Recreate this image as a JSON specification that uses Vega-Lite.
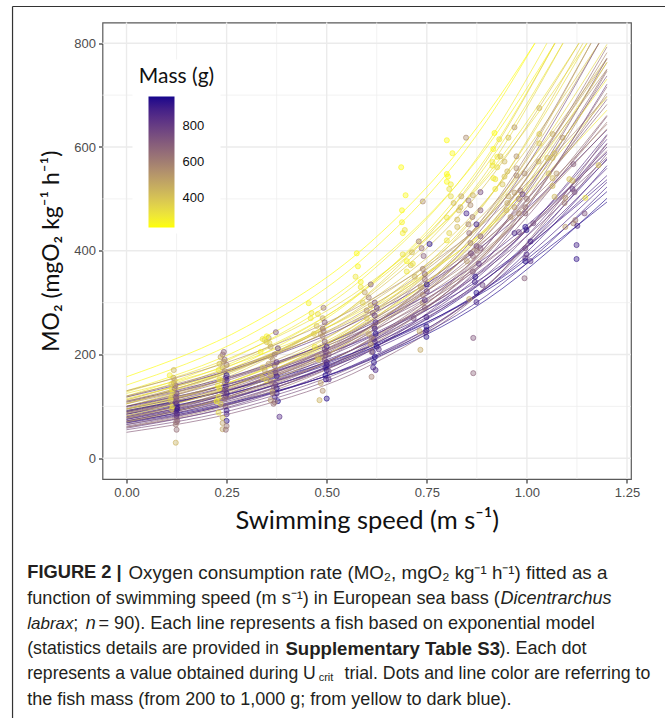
{"$schema":"https://vega.github.io/schema/vega-lite/v6.json","width":528.5,"height":456.5,"autosize":"none","padding":{"left":102.5,"top":22.5,"right":34,"bottom":239},"background":"white",
"config":{"view":{"stroke":"#5a5a5a","strokeWidth":1.2},"font":"Liberation Sans"},
"datasets":{"fish":[
{"f":1,"m":235,"s":0,"o":157},{"f":1,"m":235,"s":0.3,"o":254},{"f":1,"m":235,"s":0.6,"o":410},{"f":1,"m":235,"s":0.9,"o":663},{"f":1,"m":235,"s":1.02,"o":800},
{"f":2,"m":250,"s":0,"o":141},{"f":2,"m":250,"s":0.3,"o":235},{"f":2,"m":250,"s":0.6,"o":391},{"f":2,"m":250,"s":0.9,"o":651},{"f":2,"m":250,"s":1.02,"o":800},
{"f":3,"m":260,"s":0,"o":130},{"f":3,"m":260,"s":0.3,"o":216},{"f":3,"m":260,"s":0.6,"o":360},{"f":3,"m":260,"s":0.9,"o":600},{"f":3,"m":260,"s":1.07,"o":800},
{"f":4,"m":280,"s":0,"o":120},{"f":4,"m":280,"s":0.3,"o":206},{"f":4,"m":280,"s":0.6,"o":353},{"f":4,"m":280,"s":0.9,"o":606},{"f":4,"m":280,"s":1.05,"o":800},
{"f":5,"m":300,"s":0,"o":112},{"f":5,"m":300,"s":0.3,"o":192},{"f":5,"m":300,"s":0.6,"o":330},{"f":5,"m":300,"s":0.9,"o":566},{"f":5,"m":300,"s":1.09,"o":800},
{"f":6,"m":320,"s":0,"o":128},{"f":6,"m":320,"s":0.3,"o":207},{"f":6,"m":320,"s":0.6,"o":334},{"f":6,"m":320,"s":0.9,"o":540},{"f":6,"m":320,"s":1.15,"o":800},
{"f":7,"m":270,"s":0,"o":105},{"f":7,"m":270,"s":0.3,"o":186},{"f":7,"m":270,"s":0.6,"o":328},{"f":7,"m":270,"s":0.9,"o":581},{"f":7,"m":270,"s":1.07,"o":800},
{"f":8,"m":340,"s":0,"o":100},{"f":8,"m":340,"s":0.3,"o":177},{"f":8,"m":340,"s":0.6,"o":313},{"f":8,"m":340,"s":0.9,"o":553},{"f":8,"m":340,"s":1.09,"o":800},
{"f":9,"m":300,"s":0,"o":118},{"f":9,"m":300,"s":0.3,"o":196},{"f":9,"m":300,"s":0.6,"o":327},{"f":9,"m":300,"s":0.9,"o":545},{"f":9,"m":300,"s":1.13,"o":800},
{"f":10,"m":360,"s":0,"o":95},{"f":10,"m":360,"s":0.3,"o":173},{"f":10,"m":360,"s":0.6,"o":315},{"f":10,"m":360,"s":0.9,"o":575},{"f":10,"m":360,"s":1.07,"o":800},
{"f":11,"m":380,"s":0,"o":108},{"f":11,"m":380,"s":0.3,"o":180},{"f":11,"m":380,"s":0.6,"o":299},{"f":11,"m":380,"s":0.9,"o":499},{"f":11,"m":380,"s":1.18,"o":800},
{"f":12,"m":330,"s":0,"o":90},{"f":12,"m":330,"s":0.3,"o":159},{"f":12,"m":330,"s":0.6,"o":281},{"f":12,"m":330,"s":0.9,"o":498},{"f":12,"m":330,"s":1.15,"o":800},
{"f":13,"m":420,"s":0,"o":113},{"f":13,"m":420,"s":0.3,"o":183},{"f":13,"m":420,"s":0.6,"o":295},{"f":13,"m":420,"s":0.9,"o":477},{"f":13,"m":420,"s":1.2,"o":771},
{"f":14,"m":450,"s":0,"o":85},{"f":14,"m":450,"s":0.3,"o":150},{"f":14,"m":450,"s":0.6,"o":266},{"f":14,"m":450,"s":0.9,"o":470},{"f":14,"m":450,"s":1.18,"o":800},
{"f":15,"m":480,"s":0,"o":100},{"f":15,"m":480,"s":0.3,"o":167},{"f":15,"m":480,"s":0.6,"o":277},{"f":15,"m":480,"s":0.9,"o":462},{"f":15,"m":480,"s":1.2,"o":769},
{"f":16,"m":340,"s":0,"o":92},{"f":16,"m":340,"s":0.3,"o":158},{"f":16,"m":340,"s":0.6,"o":271},{"f":16,"m":340,"s":0.9,"o":465},{"f":16,"m":340,"s":1.2,"o":798},
{"f":17,"m":300,"s":0,"o":88},{"f":17,"m":300,"s":0.3,"o":151},{"f":17,"m":300,"s":0.6,"o":259},{"f":17,"m":300,"s":0.9,"o":445},{"f":17,"m":300,"s":1.2,"o":763},
{"f":18,"m":560,"s":0,"o":80},{"f":18,"m":560,"s":0.3,"o":141},{"f":18,"m":560,"s":0.6,"o":250},{"f":18,"m":560,"s":0.9,"o":442},{"f":18,"m":560,"s":1.2,"o":782},
{"f":19,"m":600,"s":0,"o":78},{"f":19,"m":600,"s":0.3,"o":142},{"f":19,"m":600,"s":0.6,"o":259},{"f":19,"m":600,"s":0.9,"o":472},{"f":19,"m":600,"s":1.16,"o":800},
{"f":20,"m":640,"s":0,"o":72},{"f":20,"m":640,"s":0.3,"o":131},{"f":20,"m":640,"s":0.6,"o":239},{"f":20,"m":640,"s":0.9,"o":436},{"f":20,"m":640,"s":1.2,"o":793},
{"f":21,"m":700,"s":0,"o":85},{"f":21,"m":700,"s":0.3,"o":146},{"f":21,"m":700,"s":0.6,"o":250},{"f":21,"m":700,"s":0.9,"o":430},{"f":21,"m":700,"s":1.2,"o":737},
{"f":22,"m":750,"s":0,"o":75},{"f":22,"m":750,"s":0.3,"o":137},{"f":22,"m":750,"s":0.6,"o":249},{"f":22,"m":750,"s":0.9,"o":454},{"f":22,"m":750,"s":1.18,"o":800},
{"f":23,"m":680,"s":0,"o":68},{"f":23,"m":680,"s":0.3,"o":124},{"f":23,"m":680,"s":0.6,"o":226},{"f":23,"m":680,"s":0.9,"o":411},{"f":23,"m":680,"s":1.2,"o":749},
{"f":24,"m":620,"s":0,"o":95},{"f":24,"m":620,"s":0.3,"o":154},{"f":24,"m":620,"s":0.6,"o":248},{"f":24,"m":620,"s":0.9,"o":401},{"f":24,"m":620,"s":1.2,"o":648},
{"f":25,"m":580,"s":0,"o":105},{"f":25,"m":580,"s":0.3,"o":165},{"f":25,"m":580,"s":0.6,"o":258},{"f":25,"m":580,"s":0.9,"o":405},{"f":25,"m":580,"s":1.2,"o":635},
{"f":26,"m":320,"s":0,"o":115},{"f":26,"m":320,"s":0.3,"o":180},{"f":26,"m":320,"s":0.6,"o":283},{"f":26,"m":320,"s":0.9,"o":444},{"f":26,"m":320,"s":1.2,"o":696},
{"f":27,"m":290,"s":0,"o":125},{"f":27,"m":290,"s":0.3,"o":190},{"f":27,"m":290,"s":0.6,"o":290},{"f":27,"m":290,"s":0.9,"o":441},{"f":27,"m":290,"s":1.2,"o":671},
{"f":28,"m":540,"s":0,"o":130},{"f":28,"m":540,"s":0.3,"o":198},{"f":28,"m":540,"s":0.6,"o":301},{"f":28,"m":540,"s":0.9,"o":458},{"f":28,"m":540,"s":1.2,"o":698},
{"f":29,"m":660,"s":0,"o":100},{"f":29,"m":660,"s":0.3,"o":162},{"f":29,"m":660,"s":0.6,"o":261},{"f":29,"m":660,"s":0.9,"o":422},{"f":29,"m":660,"s":1.2,"o":682},
{"f":30,"m":720,"s":0,"o":62},{"f":30,"m":720,"s":0.3,"o":116},{"f":30,"m":720,"s":0.6,"o":219},{"f":30,"m":720,"s":0.9,"o":410},{"f":30,"m":720,"s":1.2,"o":771},
{"f":31,"m":780,"s":0,"o":58},{"f":31,"m":780,"s":0.3,"o":109},{"f":31,"m":780,"s":0.6,"o":204},{"f":31,"m":780,"s":0.9,"o":384},{"f":31,"m":780,"s":1.2,"o":721},
{"f":32,"m":700,"s":0,"o":90},{"f":32,"m":700,"s":0.3,"o":150},{"f":32,"m":700,"s":0.6,"o":250},{"f":32,"m":700,"s":0.9,"o":416},{"f":32,"m":700,"s":1.2,"o":692},
{"f":33,"m":820,"s":0,"o":118},{"f":33,"m":820,"s":0.3,"o":180},{"f":33,"m":820,"s":0.6,"o":273},{"f":33,"m":820,"s":0.9,"o":416},{"f":33,"m":820,"s":1.2,"o":633},
{"f":34,"m":860,"s":0,"o":110},{"f":34,"m":860,"s":0.3,"o":167},{"f":34,"m":860,"s":0.6,"o":255},{"f":34,"m":860,"s":0.9,"o":388},{"f":34,"m":860,"s":1.2,"o":590},
{"f":35,"m":900,"s":0,"o":100},{"f":35,"m":900,"s":0.3,"o":152},{"f":35,"m":900,"s":0.6,"o":232},{"f":35,"m":900,"s":0.9,"o":353},{"f":35,"m":900,"s":1.2,"o":537},
{"f":36,"m":880,"s":0,"o":90},{"f":36,"m":880,"s":0.3,"o":141},{"f":36,"m":880,"s":0.6,"o":221},{"f":36,"m":880,"s":0.9,"o":347},{"f":36,"m":880,"s":1.2,"o":545},
{"f":37,"m":940,"s":0,"o":85},{"f":37,"m":940,"s":0.3,"o":133},{"f":37,"m":940,"s":0.6,"o":209},{"f":37,"m":940,"s":0.9,"o":328},{"f":37,"m":940,"s":1.2,"o":514},
{"f":38,"m":960,"s":0,"o":70},{"f":38,"m":960,"s":0.3,"o":115},{"f":38,"m":960,"s":0.6,"o":187},{"f":38,"m":960,"s":0.9,"o":306},{"f":38,"m":960,"s":1.2,"o":501},
{"f":39,"m":920,"s":0,"o":75},{"f":39,"m":920,"s":0.3,"o":125},{"f":39,"m":920,"s":0.6,"o":208},{"f":39,"m":920,"s":0.9,"o":346},{"f":39,"m":920,"s":1.2,"o":577},
{"f":40,"m":840,"s":0,"o":80},{"f":40,"m":840,"s":0.3,"o":133},{"f":40,"m":840,"s":0.6,"o":222},{"f":40,"m":840,"s":0.9,"o":369},{"f":40,"m":840,"s":1.2,"o":615},
{"f":41,"m":800,"s":0,"o":70},{"f":41,"m":800,"s":0.3,"o":120},{"f":41,"m":800,"s":0.6,"o":206},{"f":41,"m":800,"s":0.9,"o":354},{"f":41,"m":800,"s":1.2,"o":607},
{"f":42,"m":900,"s":0,"o":65},{"f":42,"m":900,"s":0.3,"o":112},{"f":42,"m":900,"s":0.6,"o":191},{"f":42,"m":900,"s":0.9,"o":328},{"f":42,"m":900,"s":1.2,"o":564},
{"f":43,"m":760,"s":0,"o":60},{"f":43,"m":760,"s":0.3,"o":106},{"f":43,"m":760,"s":0.6,"o":188},{"f":43,"m":760,"s":0.9,"o":332},{"f":43,"m":760,"s":1.2,"o":587},
{"f":44,"m":860,"s":0,"o":82},{"f":44,"m":860,"s":0.3,"o":133},{"f":44,"m":860,"s":0.6,"o":214},{"f":44,"m":860,"s":0.9,"o":346},{"f":44,"m":860,"s":1.2,"o":559},
{"f":45,"m":800,"s":0,"o":88},{"f":45,"m":800,"s":0.3,"o":142},{"f":45,"m":800,"s":0.6,"o":230},{"f":45,"m":800,"s":0.9,"o":371},{"f":45,"m":800,"s":1.2,"o":600},
{"f":46,"m":740,"s":0,"o":55},{"f":46,"m":740,"s":0.3,"o":100},{"f":46,"m":740,"s":0.6,"o":183},{"f":46,"m":740,"s":0.9,"o":333},{"f":46,"m":740,"s":1.2,"o":606},
{"f":47,"m":700,"s":0,"o":50},{"f":47,"m":700,"s":0.3,"o":94},{"f":47,"m":700,"s":0.6,"o":176},{"f":47,"m":700,"s":0.9,"o":331},{"f":47,"m":700,"s":1.2,"o":622},
{"f":48,"m":660,"s":0,"o":65},{"f":48,"m":660,"s":0.3,"o":118},{"f":48,"m":660,"s":0.6,"o":216},{"f":48,"m":660,"s":0.9,"o":393},{"f":48,"m":660,"s":1.2,"o":716},
{"f":49,"m":600,"s":0,"o":60},{"f":49,"m":600,"s":0.3,"o":113},{"f":49,"m":600,"s":0.6,"o":212},{"f":49,"m":600,"s":0.9,"o":397},{"f":49,"m":600,"s":1.2,"o":746},
{"f":50,"m":880,"s":0,"o":78},{"f":50,"m":880,"s":0.3,"o":126},{"f":50,"m":880,"s":0.6,"o":204},{"f":50,"m":880,"s":0.9,"o":329},{"f":50,"m":880,"s":1.2,"o":532},
{"f":51,"m":950,"s":0,"o":92},{"f":51,"m":950,"s":0.3,"o":140},{"f":51,"m":950,"s":0.6,"o":213},{"f":51,"m":950,"s":0.9,"o":324},{"f":51,"m":950,"s":1.2,"o":494},
{"f":52,"m":780,"s":0,"o":95},{"f":52,"m":780,"s":0.3,"o":149},{"f":52,"m":780,"s":0.6,"o":234},{"f":52,"m":780,"s":0.9,"o":366},{"f":52,"m":780,"s":1.2,"o":575},
{"f":53,"m":720,"s":0,"o":108},{"f":53,"m":720,"s":0.3,"o":164},{"f":53,"m":720,"s":0.6,"o":250},{"f":53,"m":720,"s":0.9,"o":381},{"f":53,"m":720,"s":1.2,"o":580},
{"f":54,"m":640,"s":0,"o":86},{"f":54,"m":640,"s":0.3,"o":143},{"f":54,"m":640,"s":0.6,"o":238},{"f":54,"m":640,"s":0.9,"o":397},{"f":54,"m":640,"s":1.2,"o":661},
{"f":55,"m":560,"s":0,"o":72},{"f":55,"m":560,"s":0.3,"o":127},{"f":55,"m":560,"s":0.6,"o":225},{"f":55,"m":560,"s":0.9,"o":398},{"f":55,"m":560,"s":1.2,"o":704},
{"f":56,"m":480,"s":0,"o":78},{"f":56,"m":480,"s":0.3,"o":138},{"f":56,"m":480,"s":0.6,"o":244},{"f":56,"m":480,"s":0.9,"o":431},{"f":56,"m":480,"s":1.2,"o":763},
{"f":57,"m":300,"s":0,"o":95},{"f":57,"m":300,"s":0.3,"o":158},{"f":57,"m":300,"s":0.6,"o":263},{"f":57,"m":300,"s":0.9,"o":439},{"f":57,"m":300,"s":1.2,"o":731},
{"f":58,"m":520,"s":0,"o":110},{"f":58,"m":520,"s":0.3,"o":178},{"f":58,"m":520,"s":0.6,"o":287},{"f":58,"m":520,"s":0.9,"o":464},{"f":58,"m":520,"s":1.2,"o":750},
{"f":59,"m":610,"s":0,"o":120},{"f":59,"m":610,"s":0.3,"o":183},{"f":59,"m":610,"s":0.6,"o":278},{"f":59,"m":610,"s":0.9,"o":423},{"f":59,"m":610,"s":1.2,"o":644},
{"f":60,"m":400,"s":0,"o":105},{"f":60,"m":400,"s":0.3,"o":180},{"f":60,"m":400,"s":0.6,"o":309},{"f":60,"m":400,"s":0.9,"o":531},{"f":60,"m":400,"s":1.13,"o":800},
{"f":61,"m":360,"s":0,"o":82},{"f":61,"m":360,"s":0.3,"o":149},{"f":61,"m":360,"s":0.6,"o":272},{"f":61,"m":360,"s":0.9,"o":496},{"f":61,"m":360,"s":1.14,"o":800},
{"f":62,"m":450,"s":0,"o":70},{"f":62,"m":450,"s":0.3,"o":131},{"f":62,"m":450,"s":0.6,"o":247},{"f":62,"m":450,"s":0.9,"o":463},{"f":62,"m":450,"s":1.16,"o":800},
{"f":63,"m":830,"s":0,"o":72},{"f":63,"m":830,"s":0.3,"o":124},{"f":63,"m":830,"s":0.6,"o":212},{"f":63,"m":830,"s":0.9,"o":364},{"f":63,"m":830,"s":1.2,"o":624},
{"f":64,"m":900,"s":0,"o":68},{"f":64,"m":900,"s":0.3,"o":113},{"f":64,"m":900,"s":0.6,"o":189},{"f":64,"m":900,"s":0.9,"o":314},{"f":64,"m":900,"s":1.2,"o":523},
{"f":65,"m":700,"s":0,"o":76},{"f":65,"m":700,"s":0.3,"o":130},{"f":65,"m":700,"s":0.6,"o":224},{"f":65,"m":700,"s":0.9,"o":384},{"f":65,"m":700,"s":1.2,"o":659},
{"f":66,"m":680,"s":0,"o":98},{"f":66,"m":680,"s":0.3,"o":154},{"f":66,"m":680,"s":0.6,"o":241},{"f":66,"m":680,"s":0.9,"o":378},{"f":66,"m":680,"s":1.2,"o":593}
],
"dots":[
{"m":450,"s":0.123,"o":30},{"m":650,"s":0.125,"o":55},{"m":620,"s":0.123,"o":65},{"m":700,"s":0.127,"o":72},{"m":680,"s":0.125,"o":78},{"m":800,"s":0.125,"o":82},{"m":750,"s":0.123,"o":88},{"m":900,"s":0.125,"o":92},{"m":950,"s":0.125,"o":97},{"m":850,"s":0.127,"o":100},{"m":400,"s":0.113,"o":95},{"m":300,"s":0.115,"o":100},{"m":920,"s":0.125,"o":105},{"m":800,"s":0.122,"o":108},{"m":700,"s":0.125,"o":112},{"m":320,"s":0.112,"o":118},{"m":600,"s":0.122,"o":120},{"m":780,"s":0.125,"o":125},{"m":350,"s":0.115,"o":128},{"m":300,"s":0.113,"o":133},{"m":600,"s":0.12,"o":135},{"m":650,"s":0.122,"o":140},{"m":500,"s":0.118,"o":145},{"m":450,"s":0.12,"o":150},{"m":500,"s":0.117,"o":155},{"m":280,"s":0.108,"o":160},{"m":450,"s":0.118,"o":170},{"m":350,"s":0.112,"o":143},{"m":720,"s":0.124,"o":117},{"m":860,"s":0.126,"o":86},{"m":640,"s":0.124,"o":70},{"m":900,"s":0.127,"o":95},{"m":380,"s":0.11,"o":112},
{"m":680,"s":0.243,"o":205},{"m":640,"s":0.24,"o":200},{"m":500,"s":0.235,"o":195},{"m":660,"s":0.245,"o":190},{"m":400,"s":0.232,"o":182},{"m":620,"s":0.25,"o":180},{"m":480,"s":0.24,"o":175},{"m":300,"s":0.23,"o":170},{"m":560,"s":0.245,"o":168},{"m":950,"s":0.25,"o":160},{"m":850,"s":0.248,"o":155},{"m":900,"s":0.25,"o":150},{"m":750,"s":0.246,"o":145},{"m":300,"s":0.228,"o":140},{"m":280,"s":0.232,"o":135},{"m":700,"s":0.245,"o":132},{"m":920,"s":0.25,"o":125},{"m":800,"s":0.248,"o":120},{"m":300,"s":0.23,"o":118},{"m":650,"s":0.245,"o":115},{"m":250,"s":0.225,"o":110},{"m":350,"s":0.235,"o":105},{"m":700,"s":0.247,"o":100},{"m":920,"s":0.25,"o":92},{"m":330,"s":0.23,"o":88},{"m":850,"s":0.25,"o":85},{"m":400,"s":0.24,"o":78},{"m":950,"s":0.25,"o":72},{"m":500,"s":0.24,"o":68},{"m":480,"s":0.24,"o":56},{"m":650,"s":0.248,"o":55},{"m":620,"s":0.25,"o":62},{"m":760,"s":0.244,"o":128},{"m":880,"s":0.248,"o":138},{"m":420,"s":0.238,"o":150},{"m":540,"s":0.242,"o":186},{"m":300,"s":0.232,"o":152},
{"m":720,"s":0.373,"o":243},{"m":500,"s":0.355,"o":232},{"m":300,"s":0.34,"o":230},{"m":330,"s":0.345,"o":228},{"m":400,"s":0.35,"o":224},{"m":260,"s":0.35,"o":235},{"m":350,"s":0.357,"o":222},{"m":800,"s":0.378,"o":212},{"m":480,"s":0.36,"o":215},{"m":260,"s":0.335,"o":205},{"m":450,"s":0.36,"o":195},{"m":560,"s":0.365,"o":190},{"m":600,"s":0.37,"o":200},{"m":820,"s":0.375,"o":185},{"m":380,"s":0.34,"o":175},{"m":500,"s":0.345,"o":170},{"m":700,"s":0.37,"o":178},{"m":850,"s":0.372,"o":165},{"m":450,"s":0.36,"o":162},{"m":900,"s":0.375,"o":158},{"m":350,"s":0.35,"o":150},{"m":600,"s":0.36,"o":148},{"m":800,"s":0.372,"o":142},{"m":950,"s":0.375,"o":135},{"m":450,"s":0.365,"o":128},{"m":900,"s":0.375,"o":125},{"m":960,"s":0.378,"o":110},{"m":900,"s":0.37,"o":118},{"m":520,"s":0.36,"o":112},{"m":600,"s":0.37,"o":108},{"m":650,"s":0.367,"o":105},{"m":850,"s":0.382,"o":80},{"m":400,"s":0.34,"o":155},{"m":650,"s":0.365,"o":125},{"m":700,"s":0.368,"o":138},{"m":500,"s":0.355,"o":182},{"m":620,"s":0.372,"o":168},
{"m":260,"s":0.455,"o":299},{"m":300,"s":0.462,"o":280},{"m":280,"s":0.46,"o":270},{"m":320,"s":0.478,"o":278},{"m":620,"s":0.492,"o":290},{"m":480,"s":0.49,"o":270},{"m":700,"s":0.495,"o":262},{"m":400,"s":0.475,"o":255},{"m":650,"s":0.49,"o":250},{"m":500,"s":0.485,"o":240},{"m":550,"s":0.49,"o":235},{"m":700,"s":0.495,"o":225},{"m":900,"s":0.5,"o":215},{"m":800,"s":0.495,"o":210},{"m":850,"s":0.497,"o":198},{"m":600,"s":0.49,"o":195},{"m":720,"s":0.495,"o":190},{"m":930,"s":0.5,"o":180},{"m":900,"s":0.497,"o":175},{"m":960,"s":0.5,"o":170},{"m":800,"s":0.505,"o":168},{"m":960,"s":0.497,"o":160},{"m":920,"s":0.498,"o":152},{"m":850,"s":0.505,"o":152},{"m":500,"s":0.485,"o":145},{"m":550,"s":0.49,"o":130},{"m":450,"s":0.482,"o":112},{"m":950,"s":0.5,"o":115},{"m":600,"s":0.492,"o":245},{"m":380,"s":0.468,"o":240},{"m":750,"s":0.498,"o":205},{"m":480,"s":0.477,"o":195},{"m":300,"s":0.47,"o":215},{"m":350,"s":0.48,"o":190},{"m":880,"s":0.5,"o":185},{"m":700,"s":0.505,"o":200},
{"m":240,"s":0.575,"o":395},{"m":250,"s":0.578,"o":370},{"m":300,"s":0.572,"o":350},{"m":260,"s":0.585,"o":340},{"m":300,"s":0.585,"o":330},{"m":500,"s":0.595,"o":320},{"m":600,"s":0.605,"o":310},{"m":700,"s":0.61,"o":335},{"m":480,"s":0.61,"o":295},{"m":550,"s":0.6,"o":285},{"m":650,"s":0.615,"o":280},{"m":800,"s":0.62,"o":275},{"m":850,"s":0.622,"o":262},{"m":700,"s":0.618,"o":255},{"m":900,"s":0.62,"o":250},{"m":950,"s":0.622,"o":240},{"m":750,"s":0.618,"o":230},{"m":900,"s":0.62,"o":225},{"m":960,"s":0.625,"o":215},{"m":850,"s":0.63,"o":210},{"m":930,"s":0.615,"o":205},{"m":960,"s":0.62,"o":195},{"m":950,"s":0.618,"o":185},{"m":900,"s":0.616,"o":175},{"m":880,"s":0.622,"o":170},{"m":600,"s":0.612,"o":157},{"m":650,"s":0.612,"o":205},{"m":400,"s":0.6,"o":270},{"m":450,"s":0.605,"o":240},{"m":350,"s":0.59,"o":300},{"m":500,"s":0.61,"o":220},{"m":600,"s":0.612,"o":232},{"m":720,"s":0.62,"o":300},{"m":820,"s":0.625,"o":290},
{"m":240,"s":0.686,"o":561},{"m":250,"s":0.697,"o":507},{"m":560,"s":0.74,"o":495},{"m":250,"s":0.688,"o":478},{"m":260,"s":0.688,"o":455},{"m":270,"s":0.69,"o":434},{"m":320,"s":0.695,"o":440},{"m":620,"s":0.73,"o":418},{"m":950,"s":0.757,"o":413},{"m":650,"s":0.737,"o":405},{"m":320,"s":0.69,"o":393},{"m":420,"s":0.713,"o":397},{"m":700,"s":0.742,"o":390},{"m":700,"s":0.745,"o":290},{"m":560,"s":0.74,"o":300},{"m":850,"s":0.745,"o":305},{"m":600,"s":0.74,"o":315},{"m":800,"s":0.75,"o":322},{"m":500,"s":0.735,"o":330},{"m":950,"s":0.75,"o":335},{"m":650,"s":0.745,"o":345},{"m":450,"s":0.72,"o":350},{"m":700,"s":0.745,"o":355},{"m":300,"s":0.7,"o":360},{"m":600,"s":0.74,"o":365},{"m":400,"s":0.71,"o":372},{"m":250,"s":0.7,"o":380},{"m":300,"s":0.715,"o":375},{"m":480,"s":0.734,"o":209},{"m":470,"s":0.732,"o":245},{"m":950,"s":0.749,"o":234},{"m":950,"s":0.749,"o":247},{"m":950,"s":0.749,"o":254},{"m":850,"s":0.747,"o":243},{"m":900,"s":0.749,"o":272},{"m":750,"s":0.717,"o":270},
{"m":240,"s":0.8,"o":613},{"m":560,"s":0.848,"o":618},{"m":250,"s":0.814,"o":588},{"m":240,"s":0.8,"o":548},{"m":240,"s":0.803,"o":543},{"m":240,"s":0.8,"o":533},{"m":280,"s":0.81,"o":528},{"m":320,"s":0.806,"o":519},{"m":340,"s":0.81,"o":505},{"m":420,"s":0.817,"o":492},{"m":480,"s":0.836,"o":505},{"m":620,"s":0.854,"o":497},{"m":460,"s":0.865,"o":507},{"m":560,"s":0.859,"o":488},{"m":760,"s":0.884,"o":513},{"m":720,"s":0.884,"o":478},{"m":900,"s":0.849,"o":472},{"m":450,"s":0.834,"o":484},{"m":420,"s":0.83,"o":478},{"m":620,"s":0.864,"o":465},{"m":420,"s":0.826,"o":460},{"m":920,"s":0.874,"o":451},{"m":300,"s":0.8,"o":464},{"m":420,"s":0.826,"o":446},{"m":600,"s":0.854,"o":451},{"m":650,"s":0.856,"o":434},{"m":350,"s":0.806,"o":434},{"m":300,"s":0.8,"o":420},{"m":700,"s":0.884,"o":428},{"m":750,"s":0.874,"o":409},{"m":700,"s":0.884,"o":405},{"m":620,"s":0.859,"o":415},{"m":900,"s":0.87,"o":340},{"m":700,"s":0.865,"o":360},{"m":800,"s":0.88,"o":375},{"m":520,"s":0.85,"o":380},{"m":650,"s":0.865,"o":390},{"m":600,"s":0.875,"o":400},{"m":750,"s":0.86,"o":395},{"m":950,"s":0.871,"o":350},{"m":950,"s":0.874,"o":319},{"m":900,"s":0.874,"o":301},{"m":480,"s":0.856,"o":307},{"m":780,"s":0.889,"o":334},{"m":720,"s":0.866,"o":232},{"m":680,"s":0.866,"o":164},
{"m":240,"s":0.919,"o":627},{"m":300,"s":0.931,"o":615},{"m":400,"s":0.954,"o":618},{"m":520,"s":0.969,"o":638},{"m":240,"s":0.916,"o":596},{"m":280,"s":0.926,"o":581},{"m":430,"s":0.934,"o":582},{"m":280,"s":0.914,"o":571},{"m":300,"s":0.914,"o":564},{"m":320,"s":0.926,"o":561},{"m":430,"s":0.944,"o":572},{"m":540,"s":0.974,"o":582},{"m":540,"s":0.974,"o":559},{"m":580,"s":0.974,"o":545},{"m":280,"s":0.916,"o":540},{"m":300,"s":0.921,"o":538},{"m":400,"s":0.944,"o":543},{"m":430,"s":0.951,"o":553},{"m":560,"s":0.994,"o":549},{"m":400,"s":0.939,"o":528},{"m":300,"s":0.921,"o":519},{"m":620,"s":0.984,"o":516},{"m":520,"s":0.969,"o":512},{"m":800,"s":0.989,"o":509},{"m":620,"s":1.0,"o":500},{"m":480,"s":0.954,"o":505},{"m":470,"s":0.951,"o":492},{"m":600,"s":0.98,"o":500},{"m":650,"s":0.996,"o":484},{"m":520,"s":0.969,"o":484},{"m":430,"s":0.949,"o":478},{"m":680,"s":0.996,"o":472},{"m":580,"s":0.98,"o":472},{"m":520,"s":0.959,"o":465},{"m":760,"s":1.016,"o":453},{"m":900,"s":0.969,"o":434},{"m":800,"s":0.98,"o":436},{"m":950,"s":0.996,"o":446},{"m":950,"s":0.999,"o":440},{"m":900,"s":1.009,"o":418},{"m":780,"s":0.996,"o":405},{"m":850,"s":0.999,"o":393},{"m":800,"s":0.996,"o":386},{"m":950,"s":0.996,"o":380},{"m":850,"s":1.009,"o":380},{"m":700,"s":0.994,"o":347},
{"m":430,"s":1.031,"o":675},{"m":380,"s":1.031,"o":625},{"m":470,"s":1.064,"o":625},{"m":520,"s":1.089,"o":618},{"m":380,"s":1.031,"o":607},{"m":450,"s":1.029,"o":572},{"m":400,"s":1.051,"o":579},{"m":430,"s":1.064,"o":579},{"m":420,"s":1.069,"o":588},{"m":700,"s":1.116,"o":567},{"m":400,"s":1.179,"o":565},{"m":430,"s":1.054,"o":549},{"m":420,"s":1.064,"o":540},{"m":420,"s":1.064,"o":525},{"m":520,"s":1.074,"o":549},{"m":400,"s":1.106,"o":538},{"m":430,"s":1.114,"o":535},{"m":430,"s":1.069,"o":504},{"m":300,"s":1.146,"o":502},{"m":520,"s":1.096,"o":502},{"m":600,"s":1.094,"o":492},{"m":820,"s":1.114,"o":519},{"m":720,"s":1.119,"o":513},{"m":720,"s":1.144,"o":472},{"m":620,"s":1.121,"o":459},{"m":580,"s":1.116,"o":453},{"m":520,"s":1.096,"o":446},{"m":880,"s":1.126,"o":448},{"m":900,"s":1.124,"o":411},{"m":930,"s":1.124,"o":384}
]},
"layer":[
{"data":{"values":[{"v":0.125},{"v":0.375},{"v":0.625},{"v":0.875},{"v":1.125}]},"mark":{"type":"rule","color":"#efefef","strokeWidth":0.8},"encoding":{"x":{"field":"v","type":"quantitative"}}},
{"data":{"values":[{"v":100},{"v":300},{"v":500},{"v":700}]},"mark":{"type":"rule","color":"#efefef","strokeWidth":0.8},"encoding":{"y":{"field":"v","type":"quantitative"}}},
{"data":{"values":[{"v":0},{"v":0.25},{"v":0.5},{"v":0.75},{"v":1.0},{"v":1.25}]},"mark":{"type":"rule","color":"#ebebeb","strokeWidth":1.4},"encoding":{"x":{"field":"v","type":"quantitative"}}},
{"data":{"values":[{"v":0},{"v":200},{"v":400},{"v":600},{"v":800}]},"mark":{"type":"rule","color":"#ebebeb","strokeWidth":1.4},"encoding":{"y":{"field":"v","type":"quantitative"}}},
{"data":{"name":"fish"},"mark":{"type":"line","interpolate":"monotone","strokeWidth":1,"opacity":0.65},"encoding":{
"x":{"field":"s","type":"quantitative","scale":{"domain":[-0.06,1.26],"nice":false,"zero":false},"axis":{"title":"Swimming speed (m s⁻¹)","titleFont":"Lato","titleFontSize":25.5,"titleFontWeight":"normal","titleColor":"#111111","titlePadding":9,"values":[0,0.25,0.5,0.75,1,1.25],"format":".2f","grid":false,"domain":false,"tickColor":"#333333","tickSize":4,"tickWidth":1.2,"labelFont":"Liberation Sans","labelFontSize":13,"labelColor":"#4d4d4d","labelPadding":3}},
"y":{"field":"o","type":"quantitative","scale":{"domain":[-40,840],"nice":false,"zero":false},"axis":{"title":"MO₂ (mgO₂ kg⁻¹ h⁻¹)","titleFont":"Lato","titleFontSize":23,"titleFontWeight":"normal","titleColor":"#111111","titlePadding":10,"values":[0,200,400,600,800],"grid":false,"domain":false,"tickColor":"#333333","tickSize":4,"tickWidth":1.2,"labelFont":"Liberation Sans","labelFontSize":13,"labelColor":"#4d4d4d","labelPadding":3}},
"stroke":{"field":"m","type":"quantitative","scale":{"domain":[231,969],"range":["#ffff00","#14068c"],"interpolate":"lab"},"legend":null},
"detail":{"field":"f","type":"nominal"}}},
{"data":{"name":"dots"},"mark":{"type":"circle","size":26,"strokeWidth":1,"fillOpacity":0.4,"strokeOpacity":0.6},"encoding":{
"x":{"field":"s","type":"quantitative"},"y":{"field":"o","type":"quantitative"},
"fill":{"field":"m","type":"quantitative","scale":{"domain":[231.001,969],"range":["#ffff00","#14068c"],"interpolate":"lab"},"legend":{"type":"gradient","title":"Mass (g)","orient":"none","legendX":30,"legendY":37,"values":[400,600,800],"gradientLength":131,"gradientThickness":26,"gradientStrokeWidth":0,"titleFont":"Lato","titleFontSize":21,"titleFontWeight":"normal","titleColor":"#111111","titleAnchor":"middle","titlePadding":10,"labelFont":"Liberation Sans","labelFontSize":13,"labelColor":"#111111","labelOffset":8,"fillColor":"white","padding":6}},
"stroke":{"field":"m","type":"quantitative","scale":{"domain":[231,969],"range":["#ffff00","#14068c"],"interpolate":"lab"},"legend":null}}},
{"mark":{"type":"rule","color":"#333333","strokeWidth":1.2},"data":{"values":[{}]},"encoding":{"x":{"datum":-0.2847},"y":{"datum":870.8},"y2":{"datum":-500.5}}},
{"mark":{"type":"rule","color":"#333333","strokeWidth":1.2},"data":{"values":[{}]},"encoding":{"y":{"datum":870.8},"x":{"datum":-0.2847},"x2":{"datum":1.346}}},
{"data":{"values":[{"t":"FIGURE 2 |"}]},"mark":{"type":"text","align":"left","baseline":"middle","font":"Liberation Sans","fontSize":18.3,"fontWeight":"bold","color":"#231f20"},"encoding":{"x":{"datum":-0.248},"y":{"datum":-221.2},"text":{"field":"t"}}},
{"data":{"values":[{"t":"Oxygen consumption rate (MO₂, mgO₂ kg⁻¹ h⁻¹) fitted as a"}]},"mark":{"type":"text","align":"left","baseline":"middle","font":"Liberation Sans","fontSize":18.75,"color":"#231f20"},"encoding":{"x":{"datum":0.005},"y":{"datum":-221.2},"text":{"field":"t"}}},
{"data":{"values":[{"t":"function of swimming speed (m s⁻¹) in European sea bass ("}]},"mark":{"type":"text","align":"left","baseline":"middle","font":"Liberation Sans","fontSize":18.1,"color":"#231f20"},"encoding":{"x":{"datum":-0.248},"y":{"datum":-271.3},"text":{"field":"t"}}},
{"data":{"values":[{"t":"Dicentrarchus"}]},"mark":{"type":"text","align":"left","baseline":"middle","font":"Liberation Sans","fontSize":18,"fontStyle":"italic","color":"#231f20"},"encoding":{"x":{"datum":0.934},"y":{"datum":-271.3},"text":{"field":"t"}}},
{"data":{"values":[{"t":"labrax"}]},"mark":{"type":"text","align":"left","baseline":"middle","font":"Liberation Sans","fontSize":17,"fontStyle":"italic","color":"#231f20"},"encoding":{"x":{"datum":-0.248},"y":{"datum":-319.5},"text":{"field":"t"}}},
{"data":{"values":[{"t":";"}]},"mark":{"type":"text","align":"left","baseline":"middle","font":"Liberation Sans","fontSize":18,"color":"#231f20"},"encoding":{"x":{"datum":-0.133},"y":{"datum":-319.5},"text":{"field":"t"}}},
{"data":{"values":[{"t":"n"}]},"mark":{"type":"text","align":"left","baseline":"middle","font":"Liberation Sans","fontSize":18,"fontStyle":"italic","color":"#231f20"},"encoding":{"x":{"datum":-0.102},"y":{"datum":-319.5},"text":{"field":"t"}}},
{"data":{"values":[{"t":"= 90). Each line represents a fish based on exponential model"}]},"mark":{"type":"text","align":"left","baseline":"middle","font":"Liberation Sans","fontSize":18.1,"color":"#231f20"},"encoding":{"x":{"datum":-0.07},"y":{"datum":-319.5},"text":{"field":"t"}}},
{"data":{"values":[{"t":"(statistics details are provided in"}]},"mark":{"type":"text","align":"left","baseline":"middle","font":"Liberation Sans","fontSize":17.7,"color":"#231f20"},"encoding":{"x":{"datum":-0.248},"y":{"datum":-367.7},"text":{"field":"t"}}},
{"data":{"values":[{"t":"Supplementary Table S3"}]},"mark":{"type":"text","align":"left","baseline":"middle","font":"Liberation Sans","fontSize":18.6,"fontWeight":"bold","color":"#231f20"},"encoding":{"x":{"datum":0.397},"y":{"datum":-367.7},"text":{"field":"t"}}},
{"data":{"values":[{"t":"). Each dot"}]},"mark":{"type":"text","align":"left","baseline":"middle","font":"Liberation Sans","fontSize":18,"color":"#231f20"},"encoding":{"x":{"datum":0.9316},"y":{"datum":-367.7},"text":{"field":"t"}}},
{"data":{"values":[{"t":"represents a value obtained during U"}]},"mark":{"type":"text","align":"left","baseline":"middle","font":"Liberation Sans","fontSize":17.6,"color":"#231f20"},"encoding":{"x":{"datum":-0.248},"y":{"datum":-415.9},"text":{"field":"t"}}},
{"data":{"values":[{"t":"crit"}]},"mark":{"type":"text","align":"left","baseline":"middle","font":"Liberation Sans","fontSize":11,"dy":4,"color":"#231f20"},"encoding":{"x":{"datum":0.48},"y":{"datum":-415.9},"text":{"field":"t"}}},
{"data":{"values":[{"t":"trial. Dots and line color are referring to"}]},"mark":{"type":"text","align":"left","baseline":"middle","font":"Liberation Sans","fontSize":17.7,"color":"#231f20"},"encoding":{"x":{"datum":0.5445},"y":{"datum":-415.9},"text":{"field":"t"}}},
{"data":{"values":[{"t":"the fish mass (from 200 to 1,000 g; from yellow to dark blue)."}]},"mark":{"type":"text","align":"left","baseline":"middle","font":"Liberation Sans","fontSize":18,"color":"#231f20"},"encoding":{"x":{"datum":-0.248},"y":{"datum":-466},"text":{"field":"t"}}}
]}
